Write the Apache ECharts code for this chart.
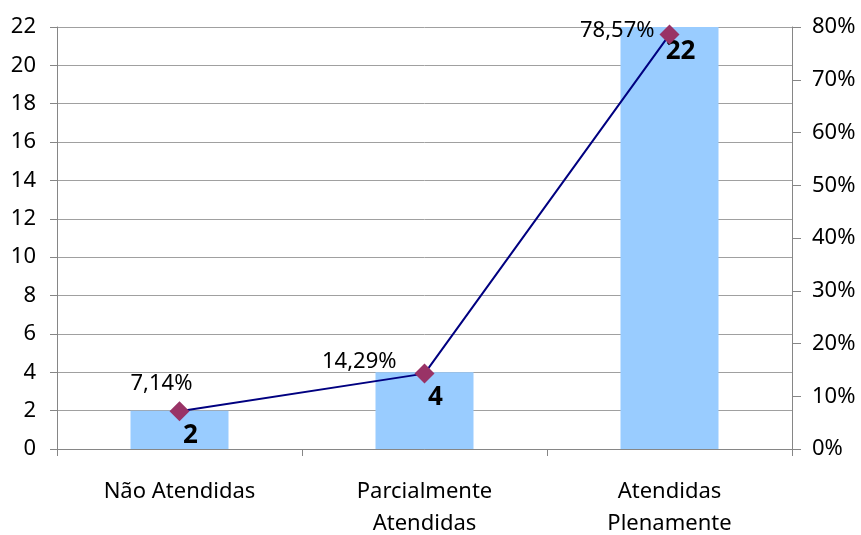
<!DOCTYPE html>
<html>
<head>
<meta charset="utf-8">
<script src="https://cdn.jsdelivr.net/npm/echarts@6/dist/echarts.min.js"></script>
<style>html,body{margin:0;padding:0;background:#fff}#c{width:861px;height:535px}</style>
</head>
<body>
<div id="c"></div>
<script>
const categories = ['Não Atendidas', 'Parcialmente\nAtendidas', 'Atendidas\nPlenamente'];
const counts = [2, 4, 22];
const percents = [7.14, 14.29, 78.57];
const leftTicks = {min: 0, max: 22, interval: 2};
const rightTicks = {min: 0, max: 80, interval: 10};

const FONT = 'Noto Sans';
const pctLabelCfg = [
  {position: 'top', offset: [-18, -2]},
  {position: 'left', offset: [-13, -12]},
  {position: 'left', offset: [0, -4]}
];

const chart = echarts.init(document.getElementById('c'), null, {renderer: 'canvas'});
chart.setOption({
  animation: false,
  backgroundColor: '#fff',
  textStyle: {fontFamily: FONT},
  grid: {left: 57, right: 69, top: 27, bottom: 86, containLabel: false, outerBoundsMode: 'none'},
  xAxis: {
    type: 'category',
    data: categories,
    boundaryGap: true,
    axisLine: {lineStyle: {color: '#868686', width: 1}},
    axisTick: {show: true, length: 7, lineStyle: {color: '#868686'}},
    axisLabel: {color: '#000', fontSize: 22, fontFamily: FONT, margin: 27, lineHeight: 32, interval: 0}
  },
  yAxis: [
    {
      type: 'value', min: leftTicks.min, max: leftTicks.max, interval: leftTicks.interval,
      axisLine: {show: true, lineStyle: {color: '#868686'}},
      axisTick: {show: true, length: 7, lineStyle: {color: '#868686'}},
      axisLabel: {color: '#000', fontSize: 22, fontFamily: FONT, margin: 21},
      splitLine: {show: true, lineStyle: {color: '#a0a0a0', width: 1}}
    },
    {
      type: 'value', min: rightTicks.min, max: rightTicks.max, interval: rightTicks.interval,
      position: 'right',
      axisLine: {show: true, lineStyle: {color: '#868686'}},
      axisTick: {show: true, length: 9, lineStyle: {color: '#868686'}},
      axisLabel: {color: '#000', fontSize: 22, fontFamily: FONT, margin: 20, formatter: v => v + '%'},
      splitLine: {show: false}
    }
  ],
  series: [
    {
      type: 'bar',
      data: counts,
      barWidth: '40%',
      itemStyle: {color: '#99CCFF'},
      label: {
        show: true, position: 'insideTop', distance: 6, offset: [11, 6],
        color: '#000', fontWeight: 'bold', fontSize: 26, fontFamily: FONT
      },
      z: 2
    },
    {
      type: 'line',
      yAxisIndex: 1,
      data: percents.map((v, i) => ({
        value: v,
        label: {show: true, position: pctLabelCfg[i].position, offset: pctLabelCfg[i].offset}
      })),
      symbol: 'diamond',
      symbolSize: 20,
      lineStyle: {color: '#000080', width: 2},
      itemStyle: {color: '#993366'},
      label: {
        show: true, color: '#000', fontSize: 22, fontFamily: FONT,
        formatter: p => p.value.toFixed(2).replace('.', ',') + '%'
      },
      z: 3
    }
  ]
});
</script>
</body>
</html>
